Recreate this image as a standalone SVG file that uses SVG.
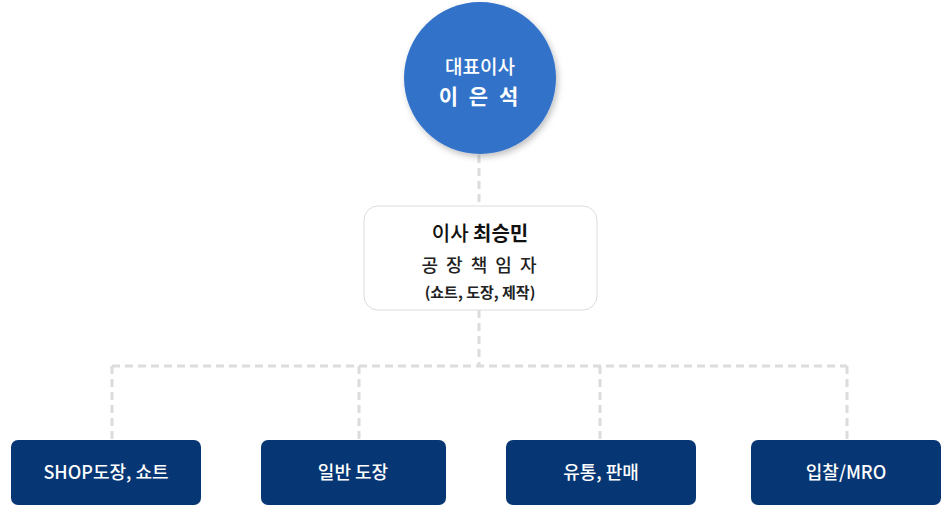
<svg xmlns="http://www.w3.org/2000/svg" width="952" height="510" viewBox="0 0 952 510">
<style>
.ln{fill:none;stroke:#dcdcdc;stroke-width:3;stroke-dasharray:8,5}
.t{font-family:"Noto Sans CJK KR","Noto Sans",sans-serif;text-anchor:middle}
.bx{fill:#063774}
.bt{fill:#fff;font-size:18px;font-weight:500}
</style>
<defs><filter id="sh" x="-20%" y="-20%" width="140%" height="140%"><feDropShadow dx="2" dy="3" stdDeviation="3" flood-color="#000" flood-opacity="0.25"/></filter></defs>
<g id="connectors">
<path class="ln" d="M479 155V206M479 310V366M112 366H847M112 366V440M359 366V440M600 366V440M847 366V440"/>
</g>
<g id="ceo">
<circle cx="480" cy="78" r="76" fill="#3373c9" filter="url(#sh)"/>
<text class="t" x="480" y="74" fill="#fff" font-size="19" font-weight="500">대표이사</text>
<text class="t" x="480" y="104" fill="#fff" font-size="21" font-weight="700" letter-spacing="3">이 은 석</text>
</g>
<g id="director">
<rect x="364" y="206" width="233" height="104" rx="14" fill="#fff" stroke="#dcdcdc"/>
<text class="t" x="480" y="241" font-size="20" font-weight="500" fill="#111">이사 <tspan font-weight="700">최승민</tspan></text>
<text class="t" x="480" y="272" font-size="18" font-weight="500" fill="#222" letter-spacing="2">공 장 책 임 자</text>
<text class="t" x="480" y="298" font-size="15" font-weight="700" fill="#222">(쇼트, 도장, 제작)</text>
</g>
<g id="n1"><rect class="bx" x="11" y="440" width="190" height="65" rx="7"/><text class="t bt" x="106" y="479">SHOP도장, 쇼트</text></g>
<g id="n2"><rect class="bx" x="261" y="440" width="185" height="65" rx="7"/><text class="t bt" x="353" y="479">일반 도장</text></g>
<g id="n3"><rect class="bx" x="506" y="440" width="190" height="65" rx="7"/><text class="t bt" x="601" y="479">유통, 판매</text></g>
<g id="n4"><rect class="bx" x="751" y="440" width="190" height="65" rx="7"/><text class="t bt" x="846" y="479">입찰/MRO</text></g>
</svg>
